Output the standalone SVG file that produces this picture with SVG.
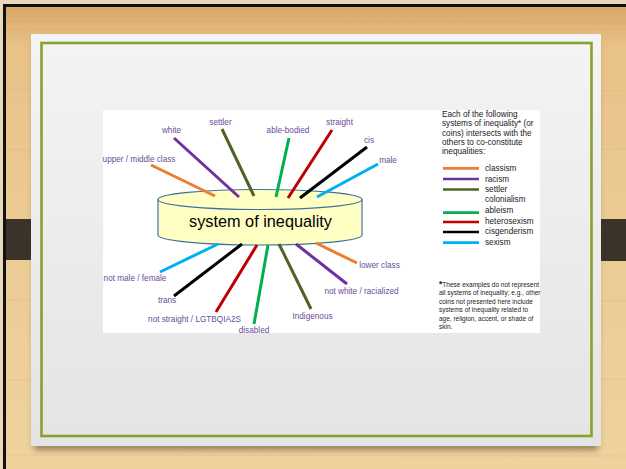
<svg xmlns="http://www.w3.org/2000/svg" width="626" height="469" viewBox="0 0 626 469">
<defs>
<linearGradient id="wood" x1="0" y1="0" x2="0" y2="1">
<stop offset="0" stop-color="#d9a364"/>
<stop offset="0.1" stop-color="#e8c287"/>
<stop offset="0.5" stop-color="#eccb94"/>
<stop offset="1" stop-color="#efd29e"/>
</linearGradient>
<linearGradient id="card" x1="0" y1="0" x2="0" y2="1">
<stop offset="0" stop-color="#f4f4f4"/>
<stop offset="1" stop-color="#e4e4e4"/>
</linearGradient>
<filter id="blur" x="-10%" y="-10%" width="120%" height="130%">
<feGaussianBlur stdDeviation="3"/>
</filter>
<style>
.lbl{font-family:"Liberation Sans",Arial,sans-serif;font-size:8.2px;fill:#6b4c9a;text-anchor:middle}
.leg{font-family:"Liberation Sans",Arial,sans-serif;font-size:8.2px;fill:#1a1a1a}
.note{font-family:"Liberation Sans",Arial,sans-serif;font-size:6.5px;fill:#1a1a1a}
.sp{stroke-width:3;stroke-linecap:butt;fill:none}
.lg{stroke-width:2.7;fill:none}
.or{stroke:#ed7d31}.pu{stroke:#7030a0}.ol{stroke:#4f6228}.gr{stroke:#00b050}.rd{stroke:#c00000}.bk{stroke:#000000}.bl{stroke:#00b0f0}
.grain{stroke:#c9965a;stroke-width:1;opacity:0.18}
</style>
</defs>

<!-- background -->
<rect x="0" y="0" width="626" height="469" fill="url(#wood)"/>
<g>
<line class="grain" x1="0" y1="14" x2="626" y2="14"/>
<line class="grain" x1="0" y1="21" x2="626" y2="22"/>
<line class="grain" x1="0" y1="30" x2="626" y2="29"/>
<line class="grain" x1="0" y1="90" x2="626" y2="91"/>
<line class="grain" x1="0" y1="150" x2="626" y2="149"/>
<line class="grain" x1="0" y1="300" x2="626" y2="301"/>
<line class="grain" x1="0" y1="380" x2="626" y2="379"/>
<line class="grain" x1="0" y1="455" x2="626" y2="456"/>
</g>
<rect x="0" y="0" width="626" height="4" fill="#ead9b8"/>
<rect x="0" y="4" width="626" height="3" fill="#111"/>
<rect x="0" y="4" width="3" height="465" fill="#ead9b8"/>
<rect x="3" y="4" width="3" height="465" fill="#111"/>

<!-- tabs -->
<g id="tab-left"><rect x="6" y="219" width="44" height="41" fill="#3b3229"/><line x1="49.5" y1="219" x2="49.5" y2="260" stroke="#6a6058" stroke-width="1"/></g>
<g id="tab-right"><rect x="583" y="219" width="43" height="42" fill="#3b3229"/><line x1="583.5" y1="219" x2="583.5" y2="261" stroke="#6a6058" stroke-width="1"/></g>

<!-- card -->
<rect x="34" y="40" width="564" height="410" fill="#5a4a38" opacity="0.6" filter="url(#blur)"/>
<rect x="31" y="34" width="570" height="412" fill="url(#card)"/>
<rect x="41.5" y="43" width="550" height="393" fill="none" stroke="#86a22e" stroke-width="2.6"/>

<!-- diagram image area -->
<rect x="103" y="110" width="437" height="223" fill="#ffffff"/>

<!-- cylinder -->
<g id="system-of-inequality">
<path d="M158 199.5 L158 235 A102 10 0 0 0 362 235 L362 199.5 Z" fill="#ffffc4" stroke="#41719c" stroke-width="1.2"/>
<ellipse cx="260" cy="199.5" rx="102" ry="10" fill="#ffffc4" stroke="#41719c" stroke-width="1.2"/>
<text x="260.5" y="226.5" font-family="Liberation Sans, Arial, sans-serif" font-size="16.3" fill="#000" text-anchor="middle">system of inequality</text>
</g>

<!-- connectors -->
<g id="connectors">
<line class="sp or" x1="151" y1="165" x2="215" y2="196"/>
<line class="sp pu" x1="174" y1="138" x2="239" y2="197"/>
<line class="sp ol" x1="222" y1="129" x2="254" y2="196"/>
<line class="sp gr" x1="289" y1="138" x2="276" y2="197"/>
<line class="sp rd" x1="332" y1="130" x2="288" y2="198"/>
<line class="sp bk" x1="367" y1="147" x2="300" y2="198"/>
<line class="sp bl" x1="378" y1="164" x2="317" y2="197"/>
<line class="sp bl" x1="218" y1="244" x2="160" y2="272"/>
<line class="sp bk" x1="242" y1="244" x2="174" y2="296"/>
<line class="sp rd" x1="257" y1="245" x2="216" y2="312"/>
<line class="sp gr" x1="268" y1="245" x2="254" y2="324"/>
<line class="sp ol" x1="279" y1="244" x2="311" y2="309"/>
<line class="sp pu" x1="296" y1="244" x2="347" y2="284"/>
<line class="sp or" x1="316" y1="243" x2="357" y2="263"/>
</g>

<!-- labels -->
<g id="upper-middle-class"><text class="lbl" x="139" y="161.5">upper / middle class</text></g>
<g id="white"><text class="lbl" x="171.5" y="133">white</text></g>
<g id="settler"><text class="lbl" x="220.5" y="124.5">settler</text></g>
<g id="able-bodied"><text class="lbl" x="288" y="132.5">able-bodied</text></g>
<g id="straight"><text class="lbl" x="339.5" y="125">straight</text></g>
<g id="cis"><text class="lbl" x="369" y="143">cis</text></g>
<g id="male"><text class="lbl" x="388" y="162.5">male</text></g>
<g id="not-male-female"><text class="lbl" x="135" y="281">not male / female</text></g>
<g id="trans"><text class="lbl" x="167" y="303">trans</text></g>
<g id="not-straight"><text class="lbl" x="194.5" y="322.3">not straight / LGTBQIA2S</text></g>
<g id="disabled"><text class="lbl" x="254" y="333">disabled</text></g>
<g id="indigenous"><text class="lbl" x="312.5" y="319.3">Indigenous</text></g>
<g id="not-white"><text class="lbl" x="361.5" y="294">not white / racialized</text></g>
<g id="lower-class"><text class="lbl" x="379.5" y="268.3">lower class</text></g>

<!-- legend -->
<g id="legend">
<text class="leg" x="442" y="116.7">Each of the following</text>
<text class="leg" x="442" y="126.2">systems of inequality* (or</text>
<text class="leg" x="442" y="135.6">coins) intersects with the</text>
<text class="leg" x="442" y="144.9">others to co-constitute</text>
<text class="leg" x="442" y="154.2">inequalities:</text>
<line class="lg or" x1="443" y1="168.3" x2="479" y2="168.3"/>
<line class="lg pu" x1="443" y1="179" x2="479" y2="179"/>
<line class="lg ol" x1="443" y1="189.5" x2="479" y2="189.5"/>
<line class="lg gr" x1="443" y1="212.7" x2="479" y2="212.7"/>
<line class="lg rd" x1="443" y1="222" x2="479" y2="222"/>
<line class="lg bk" x1="443" y1="232" x2="479" y2="232"/>
<line class="lg bl" x1="443" y1="242.7" x2="479" y2="242.7"/>
<text class="leg" x="485" y="171">classism</text>
<text class="leg" x="485" y="181.7">racism</text>
<text class="leg" x="485" y="192.2">settler</text>
<text class="leg" x="485" y="202.2">colonialism</text>
<text class="leg" x="485" y="212.8">ableism</text>
<text class="leg" x="485" y="223.5">heterosexism</text>
<text class="leg" x="485" y="234">cisgenderism</text>
<text class="leg" x="485" y="244.5">sexism</text>
</g>

<!-- footnote -->
<g id="footnote">
<text class="note" x="439" y="286.7"><tspan font-size="8.5" font-weight="bold">*</tspan>These examples do not represent</text>
<text class="note" x="439" y="295.2">all systems of inequality; e.g., other</text>
<text class="note" x="439" y="303.7">coins not presented here include</text>
<text class="note" x="439" y="312.2">systems of inequality related to</text>
<text class="note" x="439" y="320.7">age, religion, accent, or shade of</text>
<text class="note" x="439" y="329.2">skin.</text>
</g>
</svg>
